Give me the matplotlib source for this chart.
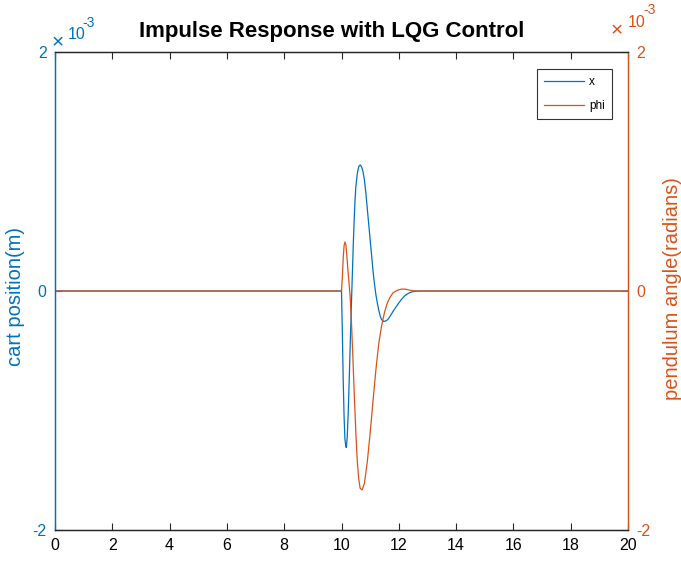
import matplotlib
matplotlib.use('Agg')
import matplotlib.pyplot as plt
from matplotlib.lines import Line2D

# cart position x (units of 1e-3 m)
t_x = [0, 10.0, 10.03, 10.06, 10.09, 10.12, 10.15, 10.17, 10.20, 10.23, 10.26,
       10.29, 10.32, 10.35, 10.38, 10.41, 10.44, 10.47, 10.50, 10.55, 10.60,
       10.65, 10.70, 10.75, 10.80, 10.85, 10.90, 10.95, 11.00, 11.05, 11.10,
       11.15, 11.20, 11.25, 11.30, 11.35, 11.40, 11.48, 11.55, 11.60, 11.65,
       11.70, 11.75, 11.80, 11.90, 12.00, 12.10, 12.20, 12.30, 12.40, 12.50,
       12.60, 12.80, 20]
x_vals = [0, 0, -0.35, -0.75, -1.05, -1.24, -1.30, -1.31, -1.22, -1.05, -0.82,
          -0.57, -0.32, -0.08, 0.15, 0.38, 0.58, 0.75, 0.87, 0.98, 1.04,
          1.055, 1.04, 1.00, 0.93, 0.82, 0.69, 0.56, 0.43, 0.30, 0.17,
          0.06, -0.03, -0.10, -0.16, -0.21, -0.24, -0.255, -0.25, -0.242, -0.228,
          -0.21, -0.19, -0.17, -0.135, -0.10, -0.068, -0.042, -0.024, -0.012, -0.005,
          -0.002, 0, 0]

# pendulum angle phi (units of 1e-3 rad)
t_phi = [0, 10.0, 10.03, 10.06, 10.09, 10.12, 10.15, 10.18, 10.21, 10.24, 10.27,
         10.30, 10.34, 10.38, 10.42, 10.46, 10.50, 10.55, 10.60, 10.65, 10.72,
         10.80, 10.90, 11.00, 11.10, 11.20, 11.30, 11.40, 11.50, 11.60, 11.70,
         11.80, 11.90, 12.00, 12.10, 12.20, 12.30, 12.40, 12.50, 12.60, 20]
phi_vals = [0, 0, 0.12, 0.28, 0.38, 0.41, 0.39, 0.32, 0.22, 0.13, 0.05,
            -0.04, -0.22, -0.45, -0.70, -0.95, -1.18, -1.42, -1.57, -1.65, -1.665,
            -1.61, -1.43, -1.19, -0.92, -0.66, -0.44, -0.29, -0.18, -0.10, -0.05,
            -0.015, 0.0, 0.01, 0.016, 0.016, 0.012, 0.006, 0.002, 0, 0]

x_ticks = [0, 2, 4, 6, 8, 10, 12, 14, 16, 18, 20]
y_ticks = [-2e-3, 0, 2e-3]
y_ticklabels = ['-2', '0', '2']

BLUE = '#0072BD'
ORANGE = '#D95319'
DARK = '#262626'

plt.rcParams['font.family'] = ['Liberation Sans', 'DejaVu Sans']
plt.rcParams['axes.unicode_minus'] = False

W, H = 681, 562
fig = plt.figure(figsize=(W / 100, H / 100), dpi=100)
ax = fig.add_axes([55 / W, 32 / H, 573 / W, 478 / H])
ax2 = ax.twinx()

ax.plot(t_x, [v * 1e-3 for v in x_vals], color=BLUE, lw=0.9)
ax2.plot(t_phi, [v * 1e-3 for v in phi_vals], color=ORANGE, lw=0.9)

ax.set_xlim(0, 20)
ax.set_ylim(-2e-3, 2e-3)
ax2.set_ylim(-2e-3, 2e-3)
ax.set_xticks(x_ticks)
ax.set_yticks(y_ticks)
ax.set_yticklabels(y_ticklabels)
ax2.set_yticks(y_ticks)
ax2.set_yticklabels(y_ticklabels)

ax.tick_params(axis='x', direction='in', length=5, top=True, colors=DARK,
               labelsize=11.5, labelcolor='black', pad=6)
ax.tick_params(axis='y', direction='in', length=5, colors=BLUE, labelsize=11.5, pad=6)
ax2.tick_params(axis='y', direction='in', length=5, colors=ORANGE, labelsize=11.5, pad=6)

for a in (ax, ax2):
    a.spines['left'].set_color(BLUE)
    a.spines['right'].set_color(ORANGE)
    a.spines['top'].set_color(DARK)
    a.spines['bottom'].set_color(DARK)
    for s in a.spines.values():
        s.set_linewidth(0.9)

fig.text(332 / W, 1 - 37 / H, 'Impulse Response with LQG Control', ha='center',
         va='baseline', fontsize=16, fontweight='bold')
fig.text(15.5 / W, 1 - 296 / H, 'cart position(m)', rotation=90, ha='center',
         va='center', fontsize=14.5, color=BLUE)
fig.text(673 / W, 1 - 289 / H, 'pendulum angle(radians)', rotation=90, ha='center',
         va='center', fontsize=14.5, color=ORANGE)

# MATLAB style exponent labels
fig.text(52 / W, 1 - 48 / H, '\u00d7', fontsize=15, color=BLUE, va='baseline')
fig.text(68 / W, 1 - 39 / H, '10', fontsize=11.5, color=BLUE, va='baseline')
fig.text(82 / W, 1 - 27 / H, '-3', fontsize=10, color=BLUE, va='baseline')
fig.text(611 / W, 1 - 36 / H, '\u00d7', fontsize=15, color=ORANGE, va='baseline')
fig.text(628 / W, 1 - 27 / H, '10', fontsize=11.5, color=ORANGE, va='baseline')
fig.text(643 / W, 1 - 14 / H, '-3', fontsize=10, color=ORANGE, va='baseline')

handles = [Line2D([], [], color=BLUE, lw=0.9), Line2D([], [], color=ORANGE, lw=0.9)]
leg = ax2.legend(handles, ['x', 'phi'], loc='upper right',
                 bbox_to_anchor=(612 / W, 1 - 69 / H), bbox_transform=fig.transFigure,
                 fontsize=8.5, frameon=True, fancybox=False, edgecolor='black',
                 handlelength=3.4, handletextpad=0.4, labelspacing=1.0,
                 borderpad=0.6, borderaxespad=0)
leg.get_frame().set_linewidth(0.8)

fig.savefig('out.png', dpi=100)
